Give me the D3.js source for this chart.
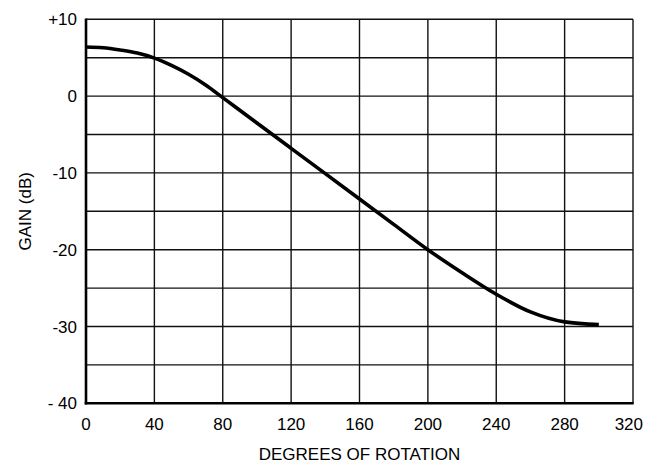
<!DOCTYPE html>
<html>
<head>
<meta charset="utf-8">
<script src="https://cdn.jsdelivr.net/npm/d3@7"></script>
<style>
  html, body { margin: 0; padding: 0; background: #fff; }
  svg text { font-family: "Liberation Sans Narrow", "Arial Narrow", "Liberation Sans", Arial, sans-serif; fill: #000; }
</style>
</head>
<body>
<svg id="chart" width="645" height="466"></svg>
<script>
const degrees = [0, 10, 20, 30, 40, 50, 60, 70, 80, 100, 120, 140, 160, 180, 200, 220, 240, 260, 280, 300];
const gainDb  = [6.4, 6.3, 6.0, 5.6, 4.95, 4.0, 2.85, 1.45, -0.2, -3.5, -6.8, -10.1, -13.4, -16.7, -20.0, -23.0, -25.8, -28.1, -29.4, -29.75];
const xTicks = [0, 40, 80, 120, 160, 200, 240, 280, 320];
const yTicks = [10, 0, -10, -20, -30, -40];
const yTickLabels = ["+10", "0", "-10", "-20", "-30", "- 40"];
const yGrid = [10, 5, 0, -5, -10, -15, -20, -25, -30, -35, -40];
const xTitle = "DEGREES OF ROTATION";
const yTitle = "GAIN (dB)";

(function () {
const W = 645;
const svg = d3.select("#chart");
const pL = 86, pR = 633, pT = 19.3, pB = 403.3;
const x = d3.scaleLinear().domain([0, 320]).range([pL, pR]);
const y = d3.scaleLinear().domain([-40, 10]).range([pB, pT]);

// grid
const g = svg.append("g");
g.selectAll("line.h").data(yGrid).join("line")
  .attr("x1", pL).attr("x2", pR)
  .attr("y1", d => y(d)).attr("y2", d => y(d))
  .attr("stroke", "#111").attr("stroke-width", 1.4);
g.selectAll("line.v").data(xTicks).join("line")
  .attr("y1", pT).attr("y2", pB)
  .attr("x1", d => x(d)).attr("x2", d => x(d))
  .attr("stroke", "#111").attr("stroke-width", 1.4);

// axes (thick left and bottom)
svg.append("line").attr("x1", pL).attr("x2", pL).attr("y1", pT - 0.7).attr("y2", pB + 1.2)
  .attr("stroke", "#000").attr("stroke-width", 2.6);
svg.append("line").attr("x1", pL - 1.3).attr("x2", pR + 0.7).attr("y1", pB).attr("y2", pB)
  .attr("stroke", "#000").attr("stroke-width", 2.6);

// tick labels
svg.selectAll("text.yt").data(yTicks).join("text")
  .attr("x", 77).attr("y", d => y(d)).attr("dy", "0.36em")
  .attr("text-anchor", "end").attr("font-size", 17)
  .text((d, i) => yTickLabels[i]);
svg.selectAll("text.xt").data(xTicks).join("text")
  .attr("x", d => x(d)).attr("y", 430)
  .attr("text-anchor", "middle").attr("font-size", 17)
  .text(d => d)
  .each(function (d) {
    const w = this.getComputedTextLength();
    const cx = Math.min(x(d), W - 2 - w / 2);
    d3.select(this).attr("x", cx);
  });

// titles
svg.append("text").attr("x", (pL + pR) / 2).attr("y", 460)
  .attr("text-anchor", "middle").attr("font-size", 17).text(xTitle);
svg.append("text").attr("transform", `translate(31,${(pT + pB) / 2}) rotate(-90)`)
  .attr("text-anchor", "middle").attr("font-size", 17).text(yTitle);

// curve
const line = d3.line().x((d, i) => x(degrees[i])).y(d => y(d)).curve(d3.curveMonotoneX);
svg.append("path").attr("d", line(gainDb))
  .attr("fill", "none").attr("stroke", "#000").attr("stroke-width", 3.6)
  .attr("stroke-linejoin", "round");
})();
</script>
</body>
</html>
